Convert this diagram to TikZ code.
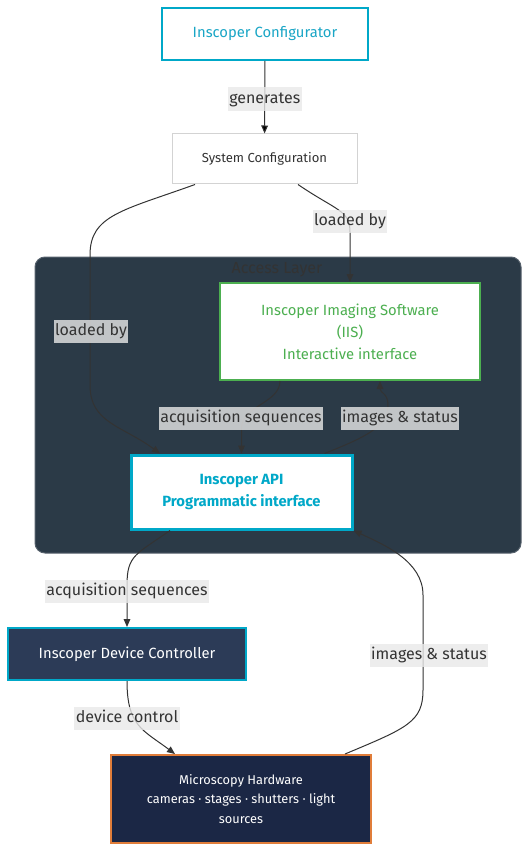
\documentclass[tikz,border=0pt]{standalone}
\usepackage{fontspec}
\setmainfont{Fira Sans}
\usetikzlibrary{arrows.meta}
\usetikzlibrary{calc}

\definecolor{cyanline}{HTML}{00A8C8}
\definecolor{cyantext}{HTML}{1AA6C6}
\definecolor{greenline}{HTML}{4CAF50}
\definecolor{layerfill}{HTML}{2B3A47}
\definecolor{layeredge}{HTML}{56616C}
\definecolor{devfill}{HTML}{2C3B57}
\definecolor{hwfill}{HTML}{1B2745}
\definecolor{orangeline}{HTML}{E07D3A}
\definecolor{txtgray}{HTML}{333333}
\definecolor{lblgray}{HTML}{E8E8E8}
\definecolor{sysline}{HTML}{D3D3D3}

\tikzset{
  box/.style={draw, line width=1.5pt, inner sep=0pt, align=center},
  lbl/.style={fill=lblgray, fill opacity=0.8, text opacity=1, text=txtgray,
              font=\fontsize{12}{14}\selectfont, inner xsep=1pt, inner ysep=2pt,
              text height=10pt, text depth=3.5pt, yshift=-1.2pt},
  arr/.style={draw=txtgray, line width=0.75pt, -{Triangle[length=6pt,width=5pt]}}
}

\begin{document}
\begin{tikzpicture}[x=0.75pt,y=-0.75pt]
		\useasboundingbox (0,0) rectangle (530,852);

		% access layer
		\filldraw[fill=layerfill, draw=layeredge, line width=0.75pt, rounded corners=7.5pt]
			(35,257) rectangle (521,553);
		\node[text=txtgray, font=\fontsize{12}{14}\selectfont] (layer) at (277,270) {Access Layer};

		\begin{scope}[every node/.style={box}]
			\node[draw=cyanline, fill=white, text=cyantext, minimum width=154.5pt, minimum height=39pt,
			      font=\fontsize{11.1}{13}\selectfont] (conf) at (265,34) {Inscoper Configurator};
			\node[draw=sysline, line width=0.75pt, fill=white, text=txtgray, minimum width=138.75pt,
			      minimum height=37.5pt, font=\fontsize{9.8}{12}\selectfont] (sys) at (264.5,159) {System Configuration};
			\node[draw=greenline, fill=white, text=greenline, minimum width=195pt, minimum height=72.75pt,
			      font=\fontsize{11.1}{16.5}\selectfont] (iis) at (350,331.5)
			      {Inscoper Imaging Software\\(IIS)\\Interactive interface};
			\node[draw=cyanline, line width=2.25pt, fill=white, text=cyanline, minimum width=165.75pt,
			      minimum height=55.5pt, font=\fontsize{11.1}{16.5}\selectfont\bfseries] (api) at (241.5,492)
			      {Inscoper API\\Programmatic interface};
			\node[draw=cyanline, fill=devfill, text=white, minimum width=178.5pt, minimum height=39pt,
			      font=\fontsize{11.1}{13}\selectfont] (dev) at (127,654) {Inscoper Device Controller};
			\node[draw=orangeline, fill=hwfill, text=white, minimum width=195pt, minimum height=66pt,
			      font=\fontsize{9.6}{14.6}\selectfont] (hw) at (241,799)
			      {Microscopy Hardware\\cameras · stages · shutters · light\\sources};
		\end{scope}

		\begin{scope}[every node/.style={lbl}]
			\path[arr] (conf) edge node {generates} (sys);
			\draw[arr] ($(sys.south)+(33.5,0)$) .. controls +(38,26) and +(0,-22) .. (350,232)
				-- (iis.north) node at (350,220) {loaded by};
			\draw[arr] ($(sys.south)+(-69.5,0)$) .. controls +(-72,26) and +(0,-40) .. (90,255)
				-- (90,385) .. controls +(0,38) and +(-38,-28) .. ($(api.north)+(-81.5,0)$)
				node at (91,330) {loaded by};
			\draw[arr] ($(iis.south)+(-70,0)$) .. controls +(0,22) and +(0,-22) .. (241.5,428)
				-- (api.north) node at (241,417) {acquisition sequences};
			\draw[arr] ($(api.north)+(83,0)$) .. controls +(40,-16) and +(0,22) .. (388,405)
				.. controls +(0,-12) and +(0,12) .. ($(iis.south)+(30,0)$)
				node at (400,417) {images \& status};
			\draw[arr] ($(api.south)+(-71.5,0)$) .. controls +(-34,24) and +(0,-30) .. (127,585)
				-- (dev.north) node at (127,590) {acquisition sequences};
			\draw[arr] ($(hw.north)+(104,0)$) .. controls +(62,-26) and +(0,32) .. (423,690)
				-- (423,595) .. controls +(0,-34) and +(30,14) .. (api.south east)
				node at (429,654) {images \& status};
			\draw[arr] (dev.south) .. controls +(0,45) and +(-32,-24) .. ($(hw.north)+(-66,0)$)
				node at (127,717) {device control};
		\end{scope}
\end{tikzpicture}
\end{document}
